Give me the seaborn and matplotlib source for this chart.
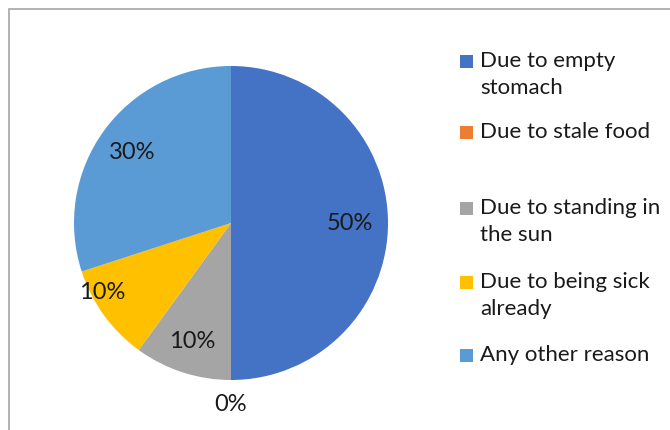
import numpy as np
import matplotlib
matplotlib.use("Agg")
import matplotlib.pyplot as plt
import matplotlib.patches as mpatches
import seaborn as sns

# Datos del grafico
categorias = ["Due to empty\nstomach", "Due to stale food", "Due to standing in\nthe sun",
              "Due to being sick\nalready", "Any other reason"]
valores = [50, 0, 10, 10, 30]
etiquetas = ["50%", "0%", "10%", "10%", "30%"]
colores = ["#4472C4", "#ED7D31", "#A5A5A5", "#FFC000", "#5B9BD5"]

sns.set_style("white")
plt.rcParams['font.family'] = ['Lato', 'DejaVu Sans']

W, H = 670, 431
fig = plt.figure(figsize=(W / 100, H / 100), dpi=100)

# Borde del area del grafico (recortado como en la captura)
fig.patches.append(mpatches.Rectangle((9 / W, -0.1), 1.2, 1 - 10 / H + 0.1,
                                      transform=fig.transFigure, fill=False,
                                      edgecolor="#A6A6A6", linewidth=1.2))

# Pastel
cx, cy, r = 231, 224, 157
ax = fig.add_axes([(cx - r) / W, (H - cy - r) / H, 2 * r / W, 2 * r / H])
wedges, _ = ax.pie(valores, colors=colores, startangle=90, counterclock=False,
                   wedgeprops=dict(linewidth=0))
ax.set_xlim(-1, 1)
ax.set_ylim(-1, 1)
ax.set_aspect("equal")
ax.axis("off")

# Etiquetas de datos (distancia relativa y ajuste de angulo por porcion)
dist = [0.76, 1.15, 0.79, 0.93, 0.78]
ajuste = [0, 0, 0, -8, 0]
for w, lab, d, a in zip(wedges, etiquetas, dist, ajuste):
    ang = np.deg2rad((w.theta1 + w.theta2) / 2 + a)
    ax.text(d * np.cos(ang), d * np.sin(ang), lab, ha="center", va="center",
            fontsize=17, color="#1a1a1a", clip_on=False)

# Leyenda
ley_y = [62, 133, 209, 283, 356]
for cat, col, y in zip(categorias, colores, ley_y):
    fig.patches.append(mpatches.Rectangle((460 / W, 1 - (y + 7) / H), 13 / W, 13 / H,
                                          transform=fig.transFigure, facecolor=col,
                                          edgecolor="none"))
    fig.text(480 / W, 1 - (y - 11) / H, cat, ha="left", va="top", fontsize=16,
             color="#1a1a1a", linespacing=1.45)

plt.savefig("out.png", dpi=100)
